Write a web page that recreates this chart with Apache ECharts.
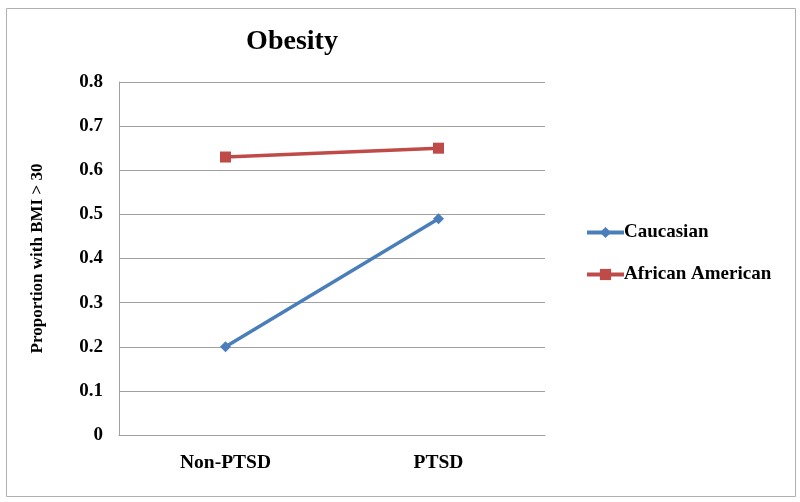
<!DOCTYPE html>
<html><head><meta charset="utf-8">
<script src="https://cdn.jsdelivr.net/npm/echarts@6/dist/echarts.min.js"></script>
<style>html,body{margin:0;padding:0;background:#fff}#c{width:800px;height:502px}</style>
</head><body><div id="c"></div>
<script>
const categories = ['Non-PTSD', 'PTSD'];
const caucasian = [0.2, 0.49];
const africanAmerican = [0.63, 0.65];
const yTicks = [0, 0.1, 0.2, 0.3, 0.4, 0.5, 0.6, 0.7, 0.8];

const font = 'Liberation Serif, Times New Roman, serif';
const chart = echarts.init(document.getElementById('c'), null, {renderer: 'canvas'});
chart.setOption({
  animation: false,
  backgroundColor: '#fff',
  graphic: [{type: 'rect', shape: {x: 6.5, y: 8.5, width: 789, height: 488}, style: {fill: 'none', stroke: '#b0b0b0', lineWidth: 1}}],
  title: {text: 'Obesity', left: 287, top: 23, textAlign: 'center',
    textStyle: {fontFamily: font, fontWeight: 'bold', fontSize: 28, color: '#000'}},
  legend: {orient: 'vertical', left: 580, top: 218, itemGap: 23, itemWidth: 37, itemHeight: 14,
    lineStyle: {width: 4},
    textStyle: {fontFamily: font, fontWeight: 'bold', fontSize: 19, color: '#000', padding: [0, 0, 0, -5]},
    data: ['Caucasian', 'African American']},
  grid: {left: 119, right: 255, top: 82, bottom: 67},
  xAxis: {type: 'category', data: categories, boundaryGap: true,
    axisLine: {lineStyle: {color: '#a0a0a0'}}, axisTick: {show: false},
    axisLabel: {fontFamily: font, fontWeight: 'bold', fontSize: 19.5, color: '#000', margin: 18}},
  yAxis: {type: 'value', min: 0, max: 0.8, interval: 0.1,
    name: 'Proportion with BMI > 30', nameLocation: 'middle', nameGap: 73, nameRotate: 90,
    nameTextStyle: {fontFamily: font, fontWeight: 'bold', fontSize: 17, color: '#000'},
    axisLine: {show: true, lineStyle: {color: '#a0a0a0'}}, axisTick: {show: false},
    splitLine: {lineStyle: {color: '#a0a0a0'}},
    axisLabel: {fontFamily: font, fontWeight: 'bold', fontSize: 19, color: '#000', margin: 16,
      formatter: v => { const t = yTicks.find(x => Math.abs(x - v) < 1e-9); return t === 0 ? '0' : String(t); }}},
  series: [
    {name: 'Caucasian', type: 'line', data: caucasian, symbol: 'diamond', symbolSize: 11,
      itemStyle: {color: '#4a7ebb'}, lineStyle: {width: 3.5, color: '#4a7ebb'}},
    {name: 'African American', type: 'line', data: africanAmerican, symbol: 'rect', symbolSize: 11,
      itemStyle: {color: '#be4b48'}, lineStyle: {width: 3.5, color: '#be4b48'}}
  ]
});
</script></body></html>
